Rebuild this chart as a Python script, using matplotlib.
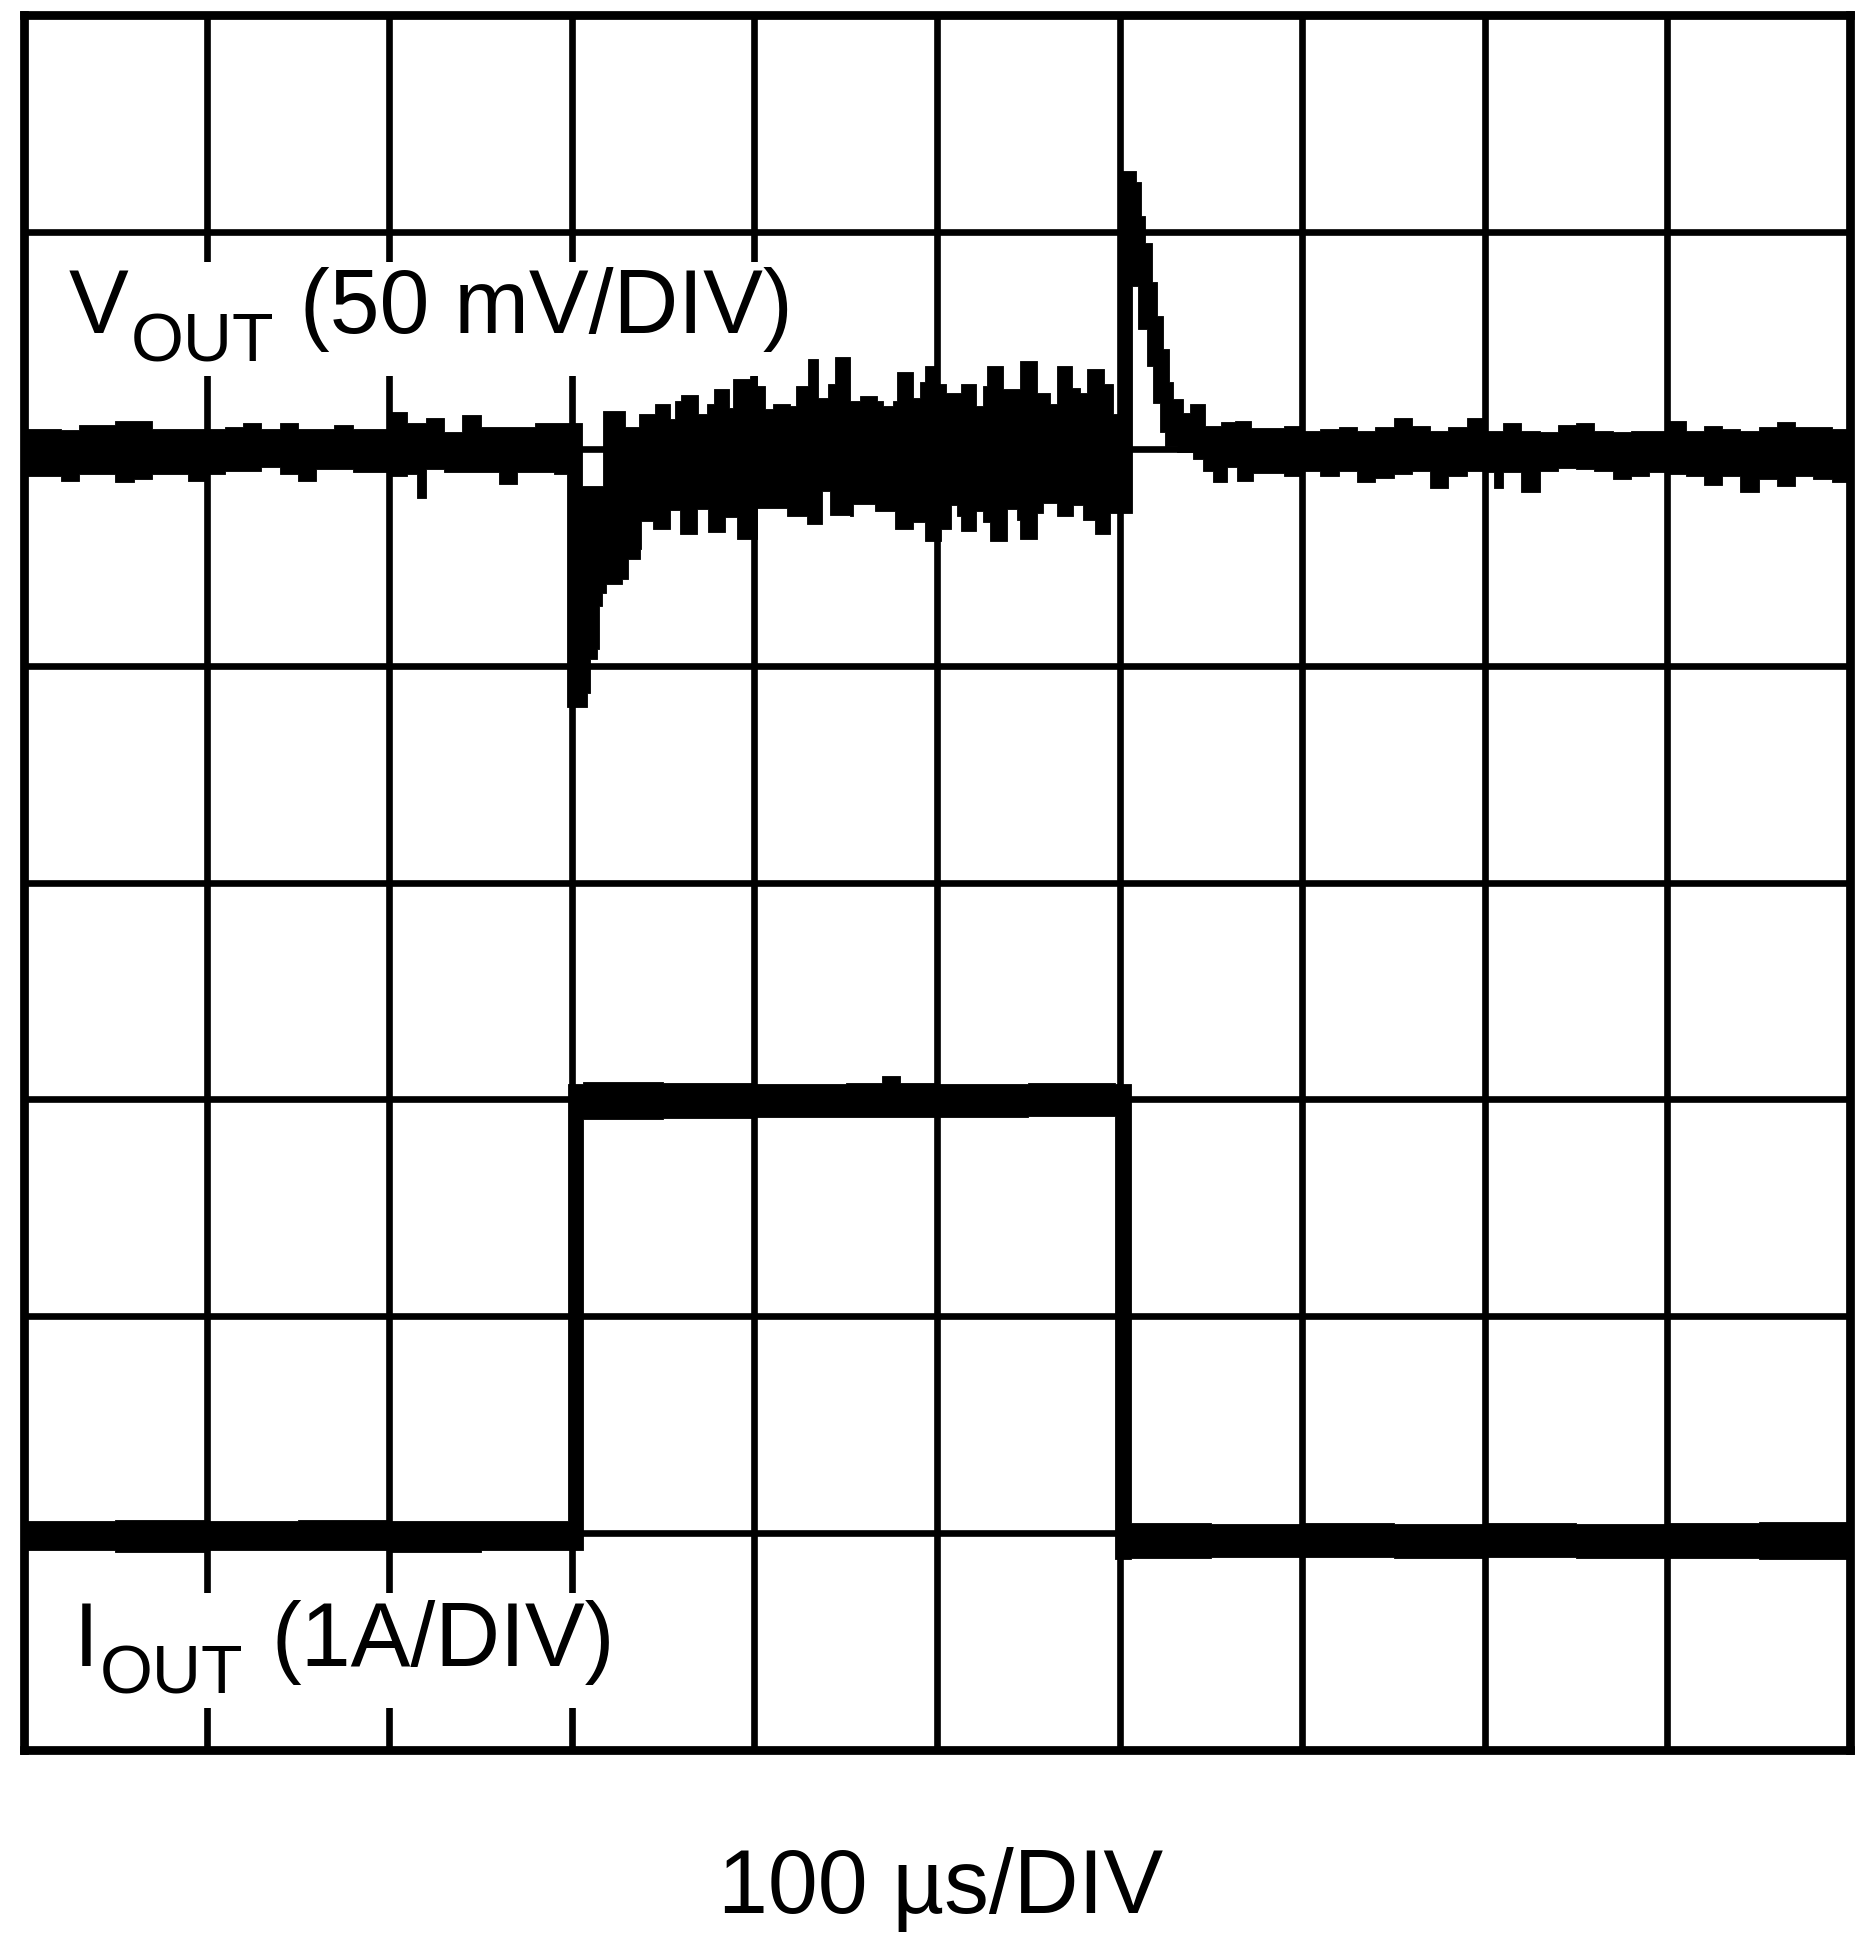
import numpy as np
import matplotlib
matplotlib.use("Agg")
import matplotlib.pyplot as plt
from matplotlib.patches import Rectangle

plt.rcParams["font.family"] = ["Liberation Sans", "DejaVu Sans"]

W, H, DPI = 1869, 1949, 100

# scope screen: 10 x 8 divisions
n_xdiv, n_ydiv = 10, 8

# V_OUT trace (in divisions): upper / lower envelope, held until the next time point
v_hi_t = [0.0, 0.1, 0.2, 0.3, 0.4, 0.5, 0.6, 0.7, 0.8, 0.9,
          1.0, 1.1, 1.2, 1.3, 1.4, 1.5, 1.6, 1.7, 1.8, 1.9,
          2.0, 2.1, 2.2, 2.3, 2.4, 2.5, 2.6, 2.7, 2.8, 2.9,
          3.054, 3.173, 3.29, 3.37, 3.456, 3.54, 3.565, 3.60, 3.69, 3.74,
          3.78, 3.86, 3.885, 3.976, 4.013, 4.06, 4.104, 4.195, 4.23, 4.295,
          4.35, 4.405, 4.44, 4.524, 4.578, 4.669, 4.706, 4.76, 4.78, 4.87,
          4.906, 4.934, 5.006, 5.052, 5.134, 5.216, 5.25, 5.272, 5.363, 5.455,
          5.546, 5.619, 5.655, 5.738, 5.783, 5.82, 5.912, 5.966,
          6.011, 6.09, 6.115, 6.139, 6.176, 6.207, 6.236, 6.271, 6.291, 6.349,
          6.386, 6.468, 6.555, 6.63, 6.72,
          6.9, 7.0, 7.1, 7.2, 7.3, 7.4, 7.5, 7.6, 7.7, 7.8,
          7.9, 8.0, 8.1, 8.2, 8.3, 8.4, 8.5, 8.6, 8.7, 8.8,
          8.9, 9.0, 9.1, 9.2, 9.3, 9.4, 9.5, 9.6, 9.7, 9.8, 9.9, 10.0]
v_hi = [6.09, 6.09, 6.086, 6.11, 6.11, 6.13, 6.13, 6.09, 6.09, 6.09,
        6.09, 6.10, 6.12, 6.09, 6.12, 6.09, 6.09, 6.11, 6.09, 6.09,
        6.17, 6.12, 6.14, 6.075, 6.155, 6.10, 6.10, 6.10, 6.12, 6.12,
        5.83, 6.175, 6.098, 6.16, 6.206, 6.137, 6.221, 6.247, 6.16, 6.206,
        6.275, 6.19, 6.321, 6.336, 6.29, 6.183, 6.206, 6.198, 6.29, 6.416,
        6.232, 6.298, 6.421, 6.221, 6.244, 6.22, 6.198, 6.22, 6.352, 6.235,
        6.309, 6.382, 6.30, 6.259, 6.298, 6.198, 6.29, 6.382, 6.275, 6.405,
        6.259, 6.206, 6.382, 6.28, 6.259, 6.367, 6.30, 6.16,
        7.281, 7.228, 7.074, 6.951, 6.767, 6.613, 6.461, 6.306, 6.229, 6.167,
        6.206, 6.106, 6.124, 6.13, 6.095,
        6.106, 6.083, 6.093, 6.101, 6.083, 6.098, 6.14, 6.106, 6.083, 6.098,
        6.14, 6.083, 6.117, 6.083, 6.075, 6.11, 6.117, 6.083, 6.075, 6.083,
        6.083, 6.127, 6.083, 6.106, 6.09, 6.083, 6.098, 6.124, 6.098, 6.098, 6.09, 6.09]

v_lo_t = [0.0, 0.1, 0.2, 0.3, 0.4, 0.5, 0.6, 0.7, 0.8, 0.9,
          1.0, 1.1, 1.2, 1.3, 1.4, 1.5, 1.6, 1.7, 1.8, 1.9,
          2.0, 2.1, 2.15, 2.2, 2.3, 2.4, 2.5, 2.6, 2.7, 2.8, 2.9,
          2.972, 3.081, 3.097, 3.136, 3.15, 3.163, 3.19, 3.273, 3.31, 3.373,
          3.38, 3.446, 3.54, 3.592, 3.683, 3.748, 3.84, 3.903, 4.013, 4.176,
          4.286, 4.368, 4.414, 4.524, 4.542, 4.66, 4.77, 4.87, 4.934, 5.024,
          5.079, 5.107, 5.134, 5.216, 5.25, 5.29, 5.381, 5.436, 5.455, 5.546,
          5.583, 5.655, 5.747, 5.801, 5.865, 5.947,
          6.066, 6.103, 6.148, 6.185, 6.221, 6.249, 6.313, 6.404, 6.459, 6.514,
          6.59, 6.641, 6.73,
          6.9, 7.0, 7.1, 7.2, 7.3, 7.4, 7.5, 7.6, 7.7, 7.8,
          7.9, 8.0, 8.05, 8.1, 8.2, 8.3, 8.4, 8.5, 8.6, 8.7, 8.8,
          8.9, 9.0, 9.1, 9.2, 9.3, 9.4, 9.5, 9.6, 9.7, 9.8, 9.9, 10.0]
v_lo = [5.875, 5.875, 5.852, 5.883, 5.883, 5.845, 5.86, 5.883, 5.883, 5.852,
        5.883, 5.898, 5.898, 5.914, 5.883, 5.852, 5.906, 5.906, 5.891, 5.891,
        5.875, 5.883, 5.775, 5.906, 5.891, 5.891, 5.891, 5.837, 5.891, 5.891, 5.883,
        4.807, 4.876, 5.03, 5.076, 5.276, 5.337, 5.376, 5.40, 5.491, 5.537,
        5.668, 5.629, 5.717, 5.606, 5.721, 5.617, 5.683, 5.583, 5.729, 5.691,
        5.652, 5.806, 5.694, 5.691, 5.744, 5.714, 5.629, 5.663, 5.575, 5.629,
        5.74, 5.69, 5.621, 5.714, 5.66, 5.575, 5.721, 5.67, 5.586, 5.706,
        5.749, 5.69, 5.74, 5.67, 5.609, 5.706,
        6.751, 6.551, 6.382, 6.213, 6.075, 6.013, 5.983, 5.952, 5.898, 5.845,
        5.914, 5.852, 5.89,
        5.875, 5.898, 5.875, 5.898, 5.847, 5.863, 5.883, 5.898, 5.817, 5.875,
        5.898, 5.891, 5.817, 5.891, 5.801, 5.898, 5.909, 5.906, 5.898, 5.86, 5.875,
        5.891, 5.883, 5.875, 5.832, 5.875, 5.799, 5.86, 5.829, 5.875, 5.86, 5.845, 5.845]

# I_OUT trace (in divisions)
i_t = [0.0, 0.5, 1.0, 1.5, 2.0, 2.5, 2.977, 3.06, 3.5, 4.0, 4.5, 4.7, 4.8,
       5.0, 5.5, 5.975, 6.06, 6.5, 7.0, 7.5, 8.0, 8.5, 9.0, 9.5, 10.0]
i_hi = [1.055, 1.06, 1.055, 1.06, 1.055, 1.055, 3.07, 3.08, 3.075, 3.07, 3.075, 3.106, 3.075,
        3.07, 3.075, 3.07, 1.045, 1.04, 1.045, 1.04, 1.045, 1.04, 1.045, 1.05, 1.05]
i_lo = [0.92, 0.915, 0.92, 0.92, 0.915, 0.92, 0.92, 2.91, 2.915, 2.92, 2.92, 2.92, 2.92,
        2.92, 2.925, 0.88, 0.885, 0.89, 0.89, 0.885, 0.89, 0.885, 0.885, 0.88, 0.88]

x_label = "100 \u00b5s/DIV"
v_label = ("V", "OUT", "(50 mV/DIV)")
i_label = ("I", "OUT", "(1A/DIV)")


def held(t_src, y_src, t):
    """value of a stepwise (held) trace at times t"""
    idx = np.searchsorted(np.asarray(t_src), t, side="right") - 1
    return np.asarray(y_src)[idx]


def px(x, y):
    """figure pixel -> figure fraction"""
    return x / W, 1 - y / H


fig = plt.figure(figsize=(W / DPI, H / DPI), dpi=DPI)
ax = fig.add_axes([24 / W, 1 - 1751 / H, (1850 - 24) / W, (1751 - 16) / H])
ax.set_xlim(0, n_xdiv)
ax.set_ylim(0, n_ydiv)
ax.set_xticks(np.arange(n_xdiv + 1))
ax.set_yticks(np.arange(n_ydiv + 1))
ax.tick_params(length=0, labelbottom=False, labelleft=False)
ax.grid(True, color="black", linewidth=4.8)
for sp in ax.spines.values():
    sp.set_linewidth(6.3)
    sp.set_color("black")

# white label boxes (hide the grid behind the text)
xd = lambda p: (p - 24) / 182.6
yd = lambda p: (1751 - p) / 216.9
for (x0, x1, y0, y1) in [(62, 798, 263, 377), (74, 618, 1594, 1709)]:
    ax.add_patch(Rectangle((xd(x0), yd(y1)), xd(x1) - xd(x0), yd(y0) - yd(y1),
                           facecolor="white", edgecolor="none", zorder=2))

# traces
t = np.union1d(v_hi_t, v_lo_t)
ax.fill_between(t, held(v_lo_t, v_lo, t), held(v_hi_t, v_hi, t), step="post",
                color="black", linewidth=0.6, zorder=3)
ax.fill_between(i_t, i_lo, i_hi, step="post", color="black", linewidth=0.6, zorder=3)

# labels
big, small = 64.5, 49
fig.text(*px(69, 333), v_label[0], fontsize=big, va="baseline")
fig.text(*px(131, 362), v_label[1], fontsize=small, va="baseline")
fig.text(*px(300, 333), v_label[2], fontsize=big, va="baseline")

fig.text(*px(74, 1666), i_label[0], fontsize=big, va="baseline")
fig.text(*px(100, 1694), i_label[1], fontsize=small, va="baseline")
fig.text(*px(271, 1666), i_label[2], fontsize=big, va="baseline")

fig.text(*px(718, 1913), x_label, fontsize=big, va="baseline")

fig.savefig("out.png", dpi=DPI, facecolor="white")
